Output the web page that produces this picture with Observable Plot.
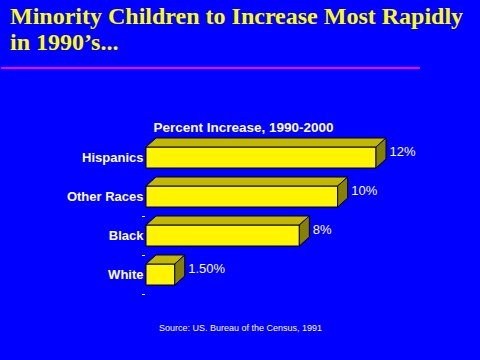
<!DOCTYPE html>
<html><head><meta charset="utf-8">
<script src="https://cdn.jsdelivr.net/npm/d3@7"></script>
<script src="https://cdn.jsdelivr.net/npm/@observablehq/plot@0.6"></script>
<style>
html,body{margin:0;padding:0;background:#0000FF;}
#wrap{position:relative;width:480px;height:360px;overflow:hidden;background:#0000FF;}
#title{position:absolute;left:10px;top:3px;font:bold 24px "Liberation Serif","Times New Roman",serif;color:#FFFF00;line-height:26px;white-space:nowrap;}
#rule{position:absolute;left:1px;top:67px;width:419px;height:2px;background:#FF00FF;}
#chart{position:absolute;left:0;top:75px;}
#source{position:absolute;left:0;width:481px;top:323px;text-align:center;font:9px "Liberation Sans",Arial,sans-serif;color:#fff;}
</style></head>
<body><div id="wrap">
<div id="title">Minority Children to Increase Most Rapidly<br>in 1990’s...</div>
<div id="rule"></div>
<div id="chart"></div>
<div id="source">Source: US. Bureau of the Census, 1991</div>
</div>
<script>
const categories = ["Hispanics", "Other Races", "Black", "White"];
const values = [12, 10, 8, 1.5];
const valueLabels = ["12%", "10%", "8%", "1.50%"];
const subtitle = "Percent Increase, 1990-2000";

const data = categories.map((c, i) => ({category: c, value: values[i], label: valueLabels[i]}));

const FRONT = "#FFF500", TOP = "#C2B800", SIDE = "#858000";
const DX = 10, DY = 9;

function dashes(index, scales) {
  const x = scales.x, y = scales.y;
  const bw = y.bandwidth(), step = y.step();
  const g = d3.create("svg:g").attr("stroke", "#fff").attr("stroke-width", 1);
  for (const c of categories.slice(1)) {
    const yy = Math.round(y(c) + bw + (step - bw) / 2) + 0.5;
    g.append("line").attr("x1", x(0) - 4).attr("x2", x(0) - 1).attr("y1", yy).attr("y2", yy);
  }
  return g.node();
}

function depth(index, scales) {
  const x = scales.x, y = scales.y, bw = y.bandwidth();
  const g = d3.create("svg:g").attr("stroke", "#000").attr("stroke-width", 1).attr("stroke-linejoin", "miter");
  for (const d of data) {
    const x0 = x(0), x1 = x(d.value), y0 = y(d.category), y1 = y0 + bw;
    g.append("path").attr("fill", TOP)
      .attr("d", `M${x0},${y0}L${x0 + DX},${y0 - DY}L${x1 + DX},${y0 - DY}L${x1},${y0}Z`);
    g.append("path").attr("fill", SIDE)
      .attr("d", `M${x1},${y0}L${x1 + DX},${y0 - DY}L${x1 + DX},${y1 - DY}L${x1},${y1}Z`);
  }
  return g.node();
}

const chart = Plot.plot({
  width: 480,
  height: 240,
  marginLeft: 146,
  marginRight: 104,
  marginTop: 54,
  marginBottom: 12,
  x: {domain: [0, 12], axis: null},
  y: {domain: categories, padding: 0.46, axis: null},
  style: {background: "transparent", color: "white", fontFamily: "'Liberation Sans', Arial, sans-serif"},
  marks: [
    dashes,
    Plot.barX(data, {x: "value", y: "category", fill: FRONT, stroke: "#000", strokeWidth: 1}),
    depth,
    Plot.text(data, {x: "value", y: "category", text: "label", dx: DX + 3, dy: -6, textAnchor: "start", fill: "white", fontSize: 13}),
    Plot.text(data, {x: 0, y: "category", text: "category", dx: -3, textAnchor: "end", fill: "white", fontSize: 13, fontWeight: "bold"}),
    Plot.text([subtitle], {frameAnchor: "top-left", dx: 7, dy: 2, lineAnchor: "bottom", fill: "white", fontSize: 13.5, fontWeight: "bold"})
  ]
});
document.getElementById("chart").appendChild(chart);
</script>
</body></html>
